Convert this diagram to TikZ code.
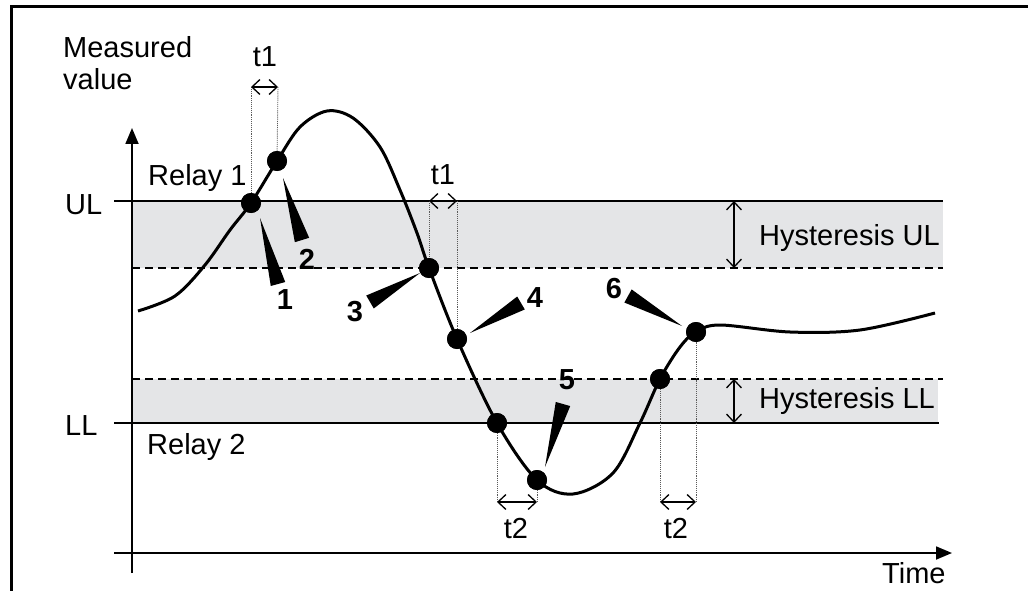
\documentclass[tikz,border=0pt]{standalone}
\usepackage{fontspec}
\setmainfont{Liberation Sans}
\usetikzlibrary{arrows.meta,calc}
\definecolor{bandgray}{RGB}{228,229,231}
\definecolor{guidegray}{RGB}{90,90,90}
\tikzset{
  frameline/.style={line width=3pt},
  axisline/.style={line width=1.8pt,-{Triangle[length=16pt,width=13pt]}},
  limitline/.style={line width=1.8pt},
  hystline/.style={line width=1.3pt,dash pattern=on 8pt off 5pt},
  band/.style={fill=bandgray,draw=none},
  curveline/.style={line width=3pt},
  dot/.style={circle,fill=black,inner sep=0pt,minimum size=20pt},
  dimline/.style={line width=1.3pt,{Straight Barb[length=8pt,width=15pt]}-{Straight Barb[length=8pt,width=15pt]}},
  guide/.style={densely dotted,line width=0.9pt,guidegray},
  wedge/.style={fill=black},
  lbl/.style={inner sep=0pt,font=\fontsize{29}{31}\selectfont},
  num/.style={inner sep=0pt,font=\bfseries\fontsize{29}{31}\selectfont},
}
\begin{document}
\begin{tikzpicture}[x=1pt,y=-1pt]
\useasboundingbox (0,0) rectangle (1028,591);
% frame
\draw[frameline] (11,591) -- (11,7) -- (1028,7);
% bands
\fill[band] (132,201) rectangle (943,268);
\fill[band] (132,379) rectangle (938,423);
% dashed hysteresis lines
\draw[hystline] (132,268) -- (943,268);
\draw[hystline] (132,379) -- (943,379);
% limit lines
\draw[limitline] (114,201) -- (943,201);
\draw[limitline] (114,423) -- (939,423);
% axes
\coordinate (ybot) at (132,573);
\coordinate (ytop) at (132,128);
\coordinate (xl) at (114,553);
\coordinate (xr) at (952,553);
\draw[axisline] (ybot) -- (ytop);
\draw[axisline] (xl) -- (xr);
% points
\node[dot] (p1) at (251,203) {};
\node[dot] (p2) at (277,161) {};
\node[dot] (p3) at (429,268) {};
\node[dot] (p4) at (457,339) {};
\node[dot] (pl) at (497,423) {};
\node[dot] (p5) at (537,480) {};
\node[dot] (pd) at (660,379) {};
\node[dot] (p6) at (696,332) {};
% dimension coordinates
\coordinate (a1l) at (251,87);
\coordinate (a1r) at (278,87);
\coordinate (a2l) at (429,201);
\coordinate (a2r) at (457,201);
\coordinate (b1l) at (497,502);
\coordinate (b1r) at (537,502);
\coordinate (b2l) at (660,502);
\coordinate (b2r) at (696,502);
\coordinate (hu1) at (734,201);
\coordinate (hu2) at (734,268);
\coordinate (hl1) at (734,379);
\coordinate (hl2) at (734,423);
% guides
\draw[guide] (a1l) -- (p1.center);
\draw[guide] (a1r) -- (p2.center);
\draw[guide] (a2l) -- (p3.center);
\draw[guide] (a2r) -- (p4.center);
\draw[guide] (b1l) -- (pl.center);
\draw[guide] (b1r) -- (p5.center);
\draw[guide] (b2l) -- (pd.center);
\draw[guide] (b2r) -- (p6.center);
% dimension arrows
\draw[dimline] (a1l) -- (a1r);
\draw[dimline] (a2l) -- (a2r);
\draw[dimline] (b1l) -- (b1r);
\draw[dimline] (b2l) -- (b2r);
\draw[dimline] (hu1) -- (hu2);
\draw[dimline] (hl1) -- (hl2);
% curve
\draw[curveline] plot[smooth,tension=0.55] coordinates {
 (138,311) (175,296) (205,265) (230,230) (251,203) (277,161) (300,127)
 (327,111) (353,118) (380,147) (400,190) (417,233) (429,268) (457,339)
 (497,423) (537,480) (573,494) (613,473) (640,423) (660,379) (680,347)
 (696,332) (720,325) (790,332) (860,330) (935,313)};
% dots above curve
\foreach \p in {p1,p2,p3,p4,pl,p5,pd,p6} \fill (\p.center) circle (10pt);
% wedges
\coordinate (w1t) at (260,218); \coordinate (w1b) at (278,284);
\coordinate (w2t) at (283,178); \coordinate (w2b) at (302,240);
\coordinate (w3t) at (420,273); \coordinate (w3b) at (370,302);
\coordinate (w4t) at (470,333); \coordinate (w4b) at (521,303);
\coordinate (w5t) at (545,467); \coordinate (w5b) at (563,404);
\coordinate (w6t) at (682,326); \coordinate (w6b) at (628,296);
\foreach \i in {1,...,6}
  \fill[wedge] ($(w\i b)!7.5pt!90:(w\i t)$) -- (w\i t) -- ($(w\i b)!7.5pt!-90:(w\i t)$) -- cycle;
% numbers
\node[num] (n1) at (285,300) {1};
\node[num] (n2) at (307,259) {2};
\node[num] (n3) at (355,312) {3};
\node[num] (n4) at (535,298) {4};
\node[num] (n5) at (567,380) {5};
\node[num] (n6) at (614,289) {6};
% texts
\node[lbl,anchor=base west] (mv1) at (63,58) {Measured};
\node[lbl,anchor=base west] (mv2) at (63,90) {value};
\node[lbl,anchor=base] (t1a) at (265,67) {t1};
\node[lbl,anchor=base] (t1b) at (443,184) {t1};
\node[lbl,anchor=base] (t2a) at (516,538) {t2};
\node[lbl,anchor=base] (t2b) at (676,538) {t2};
\node[lbl,anchor=base west] (r1) at (148,185) {Relay 1};
\node[lbl,anchor=base west] (r2) at (147,454) {Relay 2};
\node[lbl,anchor=base west] (ul) at (65,214) {UL};
\node[lbl,anchor=base west] (ll) at (65,435) {LL};
\node[lbl,anchor=base west] (hul) at (759,245) {Hysteresis UL};
\node[lbl,anchor=base west] (hll) at (759,408) {Hysteresis LL};
\node[lbl,anchor=base west] (time) at (882,583) {Time};
\end{tikzpicture}
\end{document}
